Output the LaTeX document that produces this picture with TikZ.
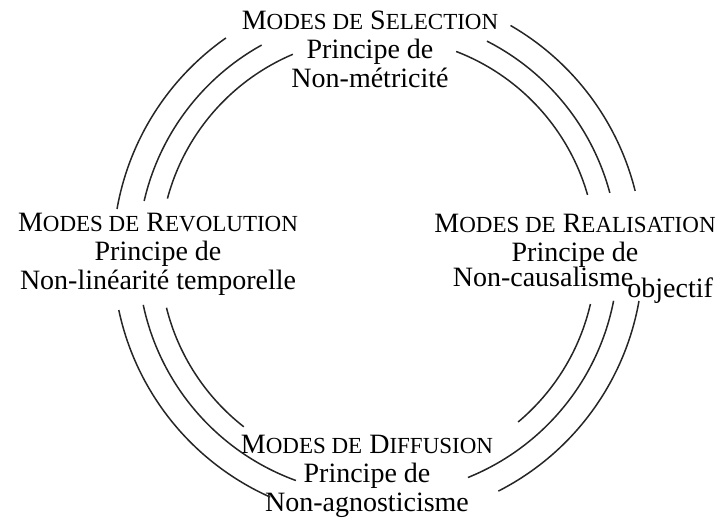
\documentclass[tikz,border=0pt]{standalone}
\usepackage{fontspec}
\setmainfont{Liberation Serif}
\usepackage{tikz}
\usetikzlibrary{positioning}
\newcommand{\petit}[1]{{\fontsize{11.5pt}{14pt}\selectfont #1}}
\newcommand{\modes}[2]{M\petit{ODES DE} #1\petit{#2}}
\tikzset{
  bloc/.style={align=center, anchor=base, inner sep=0pt, font=\fontsize{14pt}{14.5pt}\selectfont},
  trait/.style={line width=0.75pt, black!85}
}

\begin{document}
\begin{tikzpicture}[x=0.5pt, y=0.5pt]
            \useasboundingbox (0,0) rectangle (722,522);
            \coordinate (centre) at (378,267);
            \node[bloc] at (370,434) (sel) {\modes{S}{ELECTION}\\Principe de\\Non-métricité};
            \node[bloc] at (158,232) (rev) {\modes{R}{EVOLUTION}\\Principe de\\Non-linéarité temporelle};
            \node[bloc] at (575,260) (rea) {\modes{R}{EALISATION}\\Principe de};
            \node[bloc] at (543,235) (caus) {Non-causalisme};
            \node[bloc, anchor=base west] at (627,224) (obj) {objectif};
            \node[bloc] at (367,10) (dif) {\modes{D}{IFFUSION}\\Principe de\\Non-agnosticisme};
            \draw[trait] ([shift={(125:265)}]centre) arc[start angle=125, end angle=170, radius=265];
            \draw[trait] ([shift={(119:240)}]centre) arc[start angle=119, end angle=167, radius=240];
            \draw[trait] ([shift={(113:218)}]centre) arc[start angle=113, end angle=165, radius=218];
            \draw[trait] ([shift={(60:265)}]centre) arc[start angle=60, end angle=14, radius=265];
            \draw[trait] ([shift={(63:240)}]centre) arc[start angle=63, end angle=15, radius=240];
            \draw[trait] ([shift={(69:218)}]centre) arc[start angle=69, end angle=16, radius=218];
            \draw[trait] ([shift={(192:265)}]centre) arc[start angle=192, end angle=246, radius=265];
            \draw[trait] ([shift={(192:240)}]centre) arc[start angle=192, end angle=250, radius=240];
            \draw[trait] ([shift={(194:218)}]centre) arc[start angle=194, end angle=232, radius=218];
            \draw[trait] ([shift={(-10:265)}]centre) arc[start angle=-10, end angle=-63, radius=265];
            \draw[trait] ([shift={(-11:240)}]centre) arc[start angle=-11, end angle=-68, radius=240];
            \draw[trait] ([shift={(-13:218)}]centre) arc[start angle=-13, end angle=-50, radius=218];
        \end{tikzpicture}
\end{document}
